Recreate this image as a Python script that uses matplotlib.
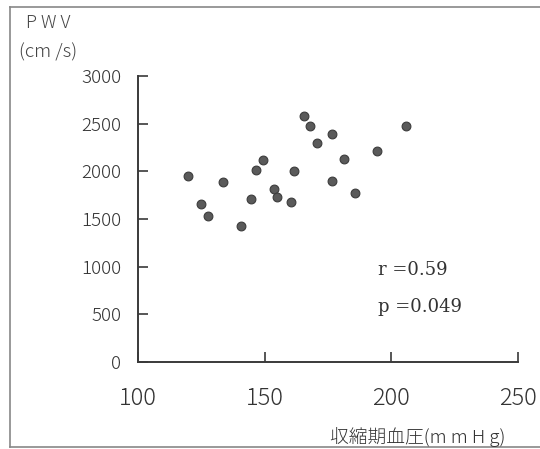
import matplotlib
matplotlib.use('Agg')
import matplotlib.pyplot as plt
from matplotlib.lines import Line2D

plt.rcParams['font.family'] = ['Noto Sans CJK JP', 'DejaVu Sans']

# data
sbp = [119.7, 124.8, 127.7, 133.6, 140.7, 144.6, 146.5, 149.5, 153.7, 154.7,
       160.5, 161.4, 165.5, 168.0, 170.7, 176.5, 176.5, 181.5, 185.7, 194.5, 205.9]
pwv = [1955, 1658, 1529, 1889, 1427, 1707, 2015, 2120, 1812, 1731,
       1682, 2004, 2585, 2480, 2301, 2389, 1899, 2133, 1770, 2211, 2480]
x_ticks = [100, 150, 200, 250]
y_ticks = [0, 500, 1000, 1500, 2000, 2500, 3000]
stats = ['r =0.59', 'p =0.049']

ink = '#3a3a3a'

fig = plt.figure(figsize=(5.40, 4.49), dpi=100)
ax = fig.add_axes([0.2556, 0.1938, 0.7037, 0.6369])

ax.scatter(sbp, pwv, s=40, color='#5a5a5a', edgecolors='#3c3c3c',
           linewidths=0.8, zorder=3, clip_on=False)

ax.set_xlim(100, 250)
ax.set_ylim(0, 3000)
ax.set_xticks(x_ticks)
ax.set_yticks(y_ticks)
ax.spines['top'].set_visible(False)
ax.spines['right'].set_visible(False)
for s in ('left', 'bottom'):
    ax.spines[s].set_color(ink)
    ax.spines[s].set_linewidth(1.4)
ax.tick_params(axis='both', direction='in', length=7, width=1.2, color=ink)
ax.tick_params(axis='y', labelsize=13.5, labelcolor='#333333', pad=12)
ax.tick_params(axis='x', labelsize=17, labelcolor='#333333', pad=17)
for lab in ax.get_xticklabels() + ax.get_yticklabels():
    lab.set_fontweight('light')

# axis titles
fig.text(0.048, 0.949, 'P W V', fontsize=13, color='#444444', ha='left',
         va='center', fontweight='light')
fig.text(0.035, 0.884, '(cm /s)', fontsize=13.5, color='#444444', ha='left',
         va='center', fontweight='light')
fig.text(0.935, 0.027, '収縮期血圧(m m H g)', fontsize=13.5, color='#333333',
         ha='right', va='center', fontweight='light')

# statistics
ax.text(0.632, 0.32, stats[0], transform=ax.transAxes, fontsize=13,
        family='DejaVu Serif', color='#333333', va='center')
ax.text(0.632, 0.192, stats[1], transform=ax.transAxes, fontsize=13,
        family='DejaVu Serif', color='#333333', va='center')

# frame around the figure (left, top, bottom)
frame_kw = dict(transform=fig.transFigure, color='#888888', linewidth=1.2)
fig.add_artist(Line2D([0.0185, 0.0185], [0.004, 0.984], **frame_kw))
fig.add_artist(Line2D([0.0185, 1.0], [0.984, 0.984], **frame_kw))
fig.add_artist(Line2D([0.0185, 1.0], [0.004, 0.004], **frame_kw))

fig.savefig('out.png', dpi=100)
